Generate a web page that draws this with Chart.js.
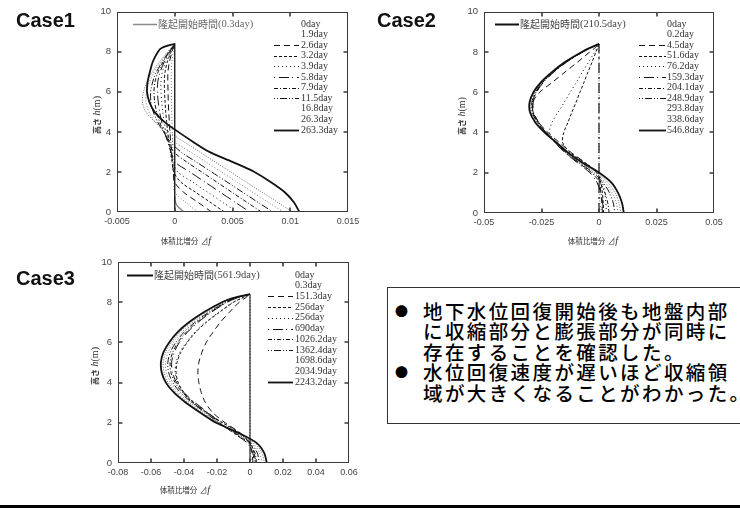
<!DOCTYPE html>
<html><head><meta charset="utf-8">
<script src="https://cdn.jsdelivr.net/npm/chart.js@4"></script>
<style>
html,body{margin:0;padding:0;background:#fff}
body{width:740px;height:510px;position:relative;overflow:hidden;font-family:"Liberation Sans",Arial,sans-serif}
canvas{position:absolute}
.case{position:absolute;font:bold 20px/20px "Liberation Sans",Arial,sans-serif;color:#111}
.ttl{position:absolute;white-space:nowrap;color:#333;font-family:"Liberation Serif",serif;font-size:10px;line-height:12px}
.ttl.y{transform:translate(-50%,-50%) rotate(-90deg)}
.ttl.x{transform:translate(-50%,-50%)}
.jp{font-family:"Noto Sans CJK JP";font-size:7.5px}
.jpb{font-family:"Noto Sans CJK JP";font-size:8px;font-weight:bold}
.box{position:absolute;left:387px;top:287px;width:420px;height:137px;border:1px solid #333;box-sizing:border-box}
.ln{position:absolute;left:35px;white-space:nowrap;font-family:"Noto Sans CJK JP";font-size:19.5px;letter-spacing:2.4px;line-height:20px;color:#000;font-weight:500}
.bul{position:absolute;left:7px;font-family:"Noto Sans CJK JP";font-size:13px;line-height:20px;color:#000}
.bar{position:absolute;left:0;top:505px;width:740px;height:3px;background:#000}
</style></head>
<body>
<canvas id="c1" width="370" height="250" style="left:0;top:0"></canvas>
<canvas id="c2" width="370" height="250" style="left:370px;top:0"></canvas>
<canvas id="c3" width="370" height="260" style="left:0;top:250px"></canvas>

<div class="case" style="left:16px;top:10px">Case1</div>
<div class="case" style="left:377px;top:10px">Case2</div>
<div class="case" style="left:16px;top:268px">Case3</div>

<div class="ttl y" style="left:97px;top:115px"><span class="jpb">高さ</span> <i>h</i>(m)</div>
<div class="ttl y" style="left:462px;top:116px"><span class="jpb">高さ</span> <i>h</i>(m)</div>
<div class="ttl y" style="left:95px;top:366px"><span class="jpb">高さ</span> <i>h</i>(m)</div>
<div class="ttl x" style="left:186px;top:241px"><span class="jp">体積比増分</span> <span class="jp">⊿</span><i>f</i></div>
<div class="ttl x" style="left:593px;top:241px"><span class="jp">体積比増分</span> <span class="jp">⊿</span><i>f</i></div>
<div class="ttl x" style="left:185px;top:490px"><span class="jp">体積比増分</span> <span class="jp">⊿</span><i>f</i></div>

<div class="box">
  <div class="bul" style="top:13px">●</div>
  <div class="ln" style="top:13px">地下水位回復開始後も地盤内部</div>
  <div class="ln" style="top:33.3px">に収縮部分と膨張部分が同時に</div>
  <div class="ln" style="top:53.6px">存在することを確認した。</div>
  <div class="bul" style="top:73.9px">●</div>
  <div class="ln" style="top:73.9px">水位回復速度が遅いほど収縮領</div>
  <div class="ln" style="top:94.5px">域が大きくなることがわかった。</div>
</div>
<div class="bar"></div>

<script>
// ---------- DATA ----------
const H = [0, 0.5, 1, 1.5, 2, 2.5, 3, 3.5, 4, 4.5, 5, 5.5, 6, 6.5, 7, 7.5, 8, 8.2, 8.4];
const yTicks = [0, 2, 4, 6, 8, 10];
const yLabels = ['0', '2', '4', '6', '8', '10'];

// Case1
const x1Ticks = [-0.005, 0, 0.005, 0.01, 0.015];
const x1Labels = ['-0.005', '0', '0.005', '0.01', '0.015'];
const labels1 = ['0day','1.9day','2.6day','3.2day','3.9day','5.8day','7.9day','11.5day','16.8day','26.3day','263.3day'];
const c1_0    = [0,0,0,0,0,0,0,0,0,0,0,0,0,0,0,0,0,0,0];
const c1_1_9  = [0.0020,0.0009,-0.00002,-0.00005,-0.00008,-0.00012,-0.00016,-0.00019,-0.00022,-0.00024,-0.00026,-0.00028,-0.00029,-0.0003,-0.0003,-0.00025,-0.00013,-0.00007,0];
const c1_2_6  = [0.0032,0.00197,0.00074,-0.00003,-0.00012,-0.0002,-0.00028,-0.00035,-0.00042,-0.00047,-0.00052,-0.00056,-0.00058,-0.0006,-0.00059,-0.00046,-0.00023,-0.00012,0];
const c1_3_2  = [0.0043,0.00304,0.00177,0.00051,-0.00009,-0.00023,-0.00036,-0.00049,-0.00061,-0.0007,-0.00078,-0.00084,-0.00088,-0.0009,-0.00084,-0.00064,-0.00031,-0.00016,0];
const c1_3_9  = [0.0054,0.00411,0.00283,0.00154,0.00026,-0.00017,-0.00039,-0.00059,-0.00076,-0.00092,-0.00104,-0.00113,-0.00119,-0.0012,-0.00107,-0.00078,-0.00037,-0.00019,0];
const c1_5_8  = [0.0065,0.0052,0.0039,0.0026,0.0013,0,-0.00031,-0.00061,-0.00089,-0.00113,-0.00131,-0.00143,-0.0015,-0.00147,-0.00126,-0.0009,-0.00042,-0.00022,0];
const c1_7_9  = [0.0075,0.00621,0.00491,0.00362,0.00233,0.00103,-0.00009,-0.00053,-0.00095,-0.00131,-0.00157,-0.00174,-0.0018,-0.00171,-0.00143,-0.001,-0.00046,-0.00024,0];
const c1_11_5 = [0.0085,0.00717,0.00584,0.00452,0.00319,0.00186,0.00053,-0.00038,-0.00097,-0.00148,-0.00186,-0.00207,-0.00208,-0.00191,-0.00158,-0.00108,-0.0005,-0.00026,0];
const c1_16_8 = [0.0094,0.00806,0.00671,0.00537,0.00403,0.00269,0.00134,0,-0.00091,-0.0017,-0.00225,-0.00249,-0.00244,-0.00219,-0.00177,-0.0012,-0.00056,-0.00029,0];
const c1_26_3 = [0.0102,0.00886,0.00752,0.00617,0.00483,0.00349,0.00215,0.00081,-0.00051,-0.00169,-0.0025,-0.0028,-0.0027,-0.0024,-0.00193,-0.00131,-0.0006,-0.00031,0];
const c1_263_3= [0.0108,0.0103,0.0095,0.0083,0.0069,0.0050,0.0030,0.0016,0.0003,-0.0009,-0.00175,-0.0022,-0.0024,-0.00235,-0.00215,-0.0019,-0.00145,-0.0011,0];
const uplift1H = [0, 0.2, 0.4, 0.6, 0.8];
const uplift1X = [0.0008, 0.0004, 0.00012, 0.00002, 0];
const uplift1Text = ['隆起開始時間', '(0.3day)'];

// Case2
const x2Ticks = [-0.05, -0.025, 0, 0.025, 0.05];
const x2Labels = ['-0.05', '-0.025', '0', '0.025', '0.05'];
const labels2 = ['0day','0.2day','4.5day','51.6day','76.2day','159.3day','204.1day','248.9day','293.8day','338.6day','546.8day'];
const c2_0     = [0,0,0,0,0,0,0,0,0,0,0,0,0,0,0,0,0,0,0];
const c2_0_2   = [0.0012,0.0004,0.0001,0,0,0,0,0,0,0,0,0,0,0,0,0,0,0,0];
const c2_4_5   = [0.0015,0.0012,0.0008,0.0003,-0.0010,-0.0060,-0.0120,-0.0172,-0.0222,-0.0262,-0.0286,-0.0288,-0.0258,-0.0202,-0.0148,-0.0093,-0.0040,-0.0018,0];
const c2_51_6  = [0.0020,0.0018,0.0015,0.0008,-0.0008,-0.0062,-0.0125,-0.0158,-0.0153,-0.0135,-0.0118,-0.0100,-0.0083,-0.0065,-0.0048,-0.0030,-0.0013,-0.0006,0];
const c2_76_2  = [0.0032,0.0030,0.0025,0.0015,-0.0005,-0.0064,-0.0128,-0.0183,-0.0215,-0.0204,-0.0178,-0.0151,-0.0125,-0.0098,-0.0072,-0.0045,-0.0019,-0.0009,0];
const c2_159_3 = [0.0020,0.0016,0.0008,-0.0008,-0.0040,-0.0094,-0.0148,-0.0192,-0.0228,-0.0262,-0.0284,-0.0286,-0.0271,-0.0241,-0.0196,-0.0140,-0.0070,-0.0037,0];
const c2_204_1 = [0.0044,0.0038,0.0026,0.0005,-0.0032,-0.0090,-0.0146,-0.0191,-0.0230,-0.0265,-0.0287,-0.0289,-0.0274,-0.0244,-0.0198,-0.0142,-0.0071,-0.0038,0];
const c2_248_9 = [0.0069,0.0062,0.0046,0.0018,-0.0025,-0.0086,-0.0143,-0.0190,-0.0231,-0.0268,-0.0290,-0.0292,-0.0276,-0.0246,-0.0200,-0.0144,-0.0072,-0.0038,0];
const c2_293_8 = [0.0083,0.0075,0.0058,0.0028,-0.0018,-0.0082,-0.0140,-0.0188,-0.0233,-0.0271,-0.0293,-0.0295,-0.0279,-0.0248,-0.0201,-0.0145,-0.0072,-0.0039,0];
const c2_338_6 = [0.0095,0.0087,0.0070,0.0040,-0.0010,-0.0078,-0.0138,-0.0186,-0.0234,-0.0273,-0.0296,-0.0298,-0.0282,-0.0250,-0.0203,-0.0146,-0.0073,-0.0039,0];
const c2_546_8 = [0.0108,0.0100,0.0083,0.0055,0.0001,-0.0072,-0.0135,-0.0185,-0.0236,-0.0277,-0.0300,-0.0302,-0.0285,-0.0252,-0.0205,-0.0148,-0.0075,-0.0040,0];
const uplift2Text = ['隆起開始時間', '(210.5day)'];

// Case3
const x3Ticks = [-0.08, -0.06, -0.04, -0.02, 0, 0.02, 0.04, 0.06];
const x3Labels = ['-0.08', '-0.06', '-0.04', '-0.02', '0', '0.02', '0.04', '0.06'];
const labels3 = ['0day','0.3day','151.3day','256day','256day','690day','1026.2day','1362.4day','1698.6day','2034.9day','2243.2day'];
const c3_0      = [0,0,0,0,0,0,0,0,0,0,0,0,0,0,0,0,0,0,0];
const c3_0_3    = [0.0010,0.0003,0.0001,0,0,0,0,0,0,0,0,0,0,0,0,0,0,0,0];
const c3_151_3  = [0.0018,0.0012,-0.0005,-0.0060,-0.0150,-0.0225,-0.0270,-0.0295,-0.0310,-0.0316,-0.0310,-0.0292,-0.0265,-0.0225,-0.0180,-0.0125,-0.0065,-0.0030,0];
const c3_256a   = [0.0032,0.0025,0.0000,-0.0065,-0.0165,-0.0260,-0.0345,-0.0400,-0.0435,-0.0448,-0.0442,-0.0420,-0.0380,-0.0330,-0.0265,-0.0185,-0.0100,-0.0050,0];
const c3_256b   = [0.0034,0.0026,0.0002,-0.0066,-0.0168,-0.0264,-0.0350,-0.0405,-0.0440,-0.0453,-0.0448,-0.0426,-0.0386,-0.0336,-0.0270,-0.0190,-0.0103,-0.0052,0];
const c3_690    = [0.0025,0.0017,-0.0018,-0.0102,-0.0180,-0.0253,-0.0332,-0.0400,-0.0445,-0.0470,-0.0475,-0.0460,-0.0428,-0.0380,-0.0315,-0.0234,-0.0138,-0.0082,0];
const c3_1026_2 = [0.0040,0.0030,-0.0008,-0.0098,-0.0185,-0.0260,-0.0340,-0.0408,-0.0454,-0.0479,-0.0484,-0.0469,-0.0437,-0.0388,-0.0322,-0.0240,-0.0142,-0.0085,0];
const c3_1362_4 = [0.0056,0.0044,0.0004,-0.0092,-0.0190,-0.0270,-0.0352,-0.0421,-0.0468,-0.0493,-0.0498,-0.0483,-0.0450,-0.0401,-0.0334,-0.0250,-0.0149,-0.0090,0];
const c3_1698_6 = [0.0072,0.0058,0.0016,-0.0085,-0.0195,-0.0280,-0.0364,-0.0434,-0.0482,-0.0507,-0.0512,-0.0497,-0.0463,-0.0414,-0.0346,-0.0260,-0.0156,-0.0095,0];
const c3_2034_9 = [0.0088,0.0072,0.0028,-0.0078,-0.0200,-0.0290,-0.0376,-0.0447,-0.0496,-0.0521,-0.0526,-0.0511,-0.0476,-0.0427,-0.0358,-0.0270,-0.0163,-0.0100,0];
const c3_2243_2 = [0.0102,0.0086,0.0040,-0.0070,-0.0205,-0.0300,-0.0388,-0.0460,-0.0510,-0.0535,-0.0540,-0.0525,-0.0490,-0.0440,-0.0370,-0.0280,-0.0170,-0.0105,0];
const uplift3Text = ['隆起開始時間', '(561.9day)'];

// ---------- STYLES ----------
const K = '#111';
const S = {
  solidThin: {w:1.3, d:[], s:false},
  blank:     {w:0.8, d:[1,2], s:false, c:'#555'},
  blank2:    {w:0.8, d:[1,1.5], s:false, c:'#444'},
  longDash:  {w:1, d:[6,4]},
  shortDash: {w:1, d:[3,2]},
  dotted:    {w:1, d:[1,3]},
  dotLong:   {w:1, d:[1,4,10,3]},
  dashDot:   {w:1, d:[4,2,1,2]},
  ddLong:    {w:1, d:[1,2,1,2,7,2]},
  solidBold: {w:1.8, d:[]},
  vertDash:  {w:1.2, d:[10,4,2,4], s:false}
};

function ds(label, xs, st, order, hs) {
  const hh = hs || H;
  return {
    label, data: xs.map((x, i) => ({x, y: hh[i]})),
    borderColor: st.c || K, borderWidth: st.w, borderDash: st.d,
    sample: st.s !== false, pointRadius: 0, showLine: true, tension: 0.3,
    fill: false, order
  };
}

const sets1 = [
  ds(labels1[0], c1_0, S.solidThin, 0),
  ds(labels1[1], c1_1_9, S.blank, 9),
  ds(labels1[2], c1_2_6, S.longDash, 8),
  ds(labels1[3], c1_3_2, S.shortDash, 7),
  ds(labels1[4], c1_3_9, S.dotted, 6),
  ds(labels1[5], c1_5_8, S.dotLong, 5),
  ds(labels1[6], c1_7_9, S.dashDot, 4),
  ds(labels1[7], c1_11_5, S.ddLong, 3),
  ds(labels1[8], c1_16_8, S.blank, 2),
  ds(labels1[9], c1_26_3, S.blank2, 2),
  ds(labels1[10], c1_263_3, S.solidBold, 1),
];
sets1.push(Object.assign(ds('uplift', uplift1X, {w:1.5, d:[], c:'#8a8a8a'}, 10, uplift1H), {sample:false, legendSkip:true}));

const sets2 = [
  ds(labels2[0], c2_0, S.vertDash, 0),
  ds(labels2[1], c2_0_2, S.blank, 9),
  ds(labels2[2], c2_4_5, S.longDash, 8),
  ds(labels2[3], c2_51_6, S.shortDash, 7),
  ds(labels2[4], c2_76_2, S.dotted, 6),
  ds(labels2[5], c2_159_3, S.dotLong, 5),
  ds(labels2[6], c2_204_1, S.dashDot, 4),
  ds(labels2[7], c2_248_9, S.ddLong, 3),
  ds(labels2[8], c2_293_8, S.blank, 2),
  ds(labels2[9], c2_338_6, S.blank2, 2),
  ds(labels2[10], c2_546_8, S.solidBold, 1),
];

const sets3 = [
  ds(labels3[0], c3_0, {w:1.1, d:[], s:false}, 0),
  ds(labels3[1], c3_0_3, S.blank, 9),
  ds(labels3[2], c3_151_3, S.longDash, 8),
  ds(labels3[3], c3_256a, S.shortDash, 7),
  ds(labels3[4], c3_256b, S.dotted, 6),
  ds(labels3[5], c3_690, S.dotLong, 5),
  ds(labels3[6], c3_1026_2, S.dashDot, 4),
  ds(labels3[7], c3_1362_4, S.ddLong, 3),
  ds(labels3[8], c3_1698_6, S.blank, 2),
  ds(labels3[9], c3_2034_9, S.blank2, 2),
  ds(labels3[10], c3_2243_2, S.solidBold, 1),
];

// ---------- PLUGINS ----------
const framePlugin = {
  id: 'frame',
  afterDatasetsDraw(chart) {
    const {ctx, chartArea: a, scales: {x, y}} = chart;
    ctx.save();
    ctx.strokeStyle = '#3a3a3a';
    ctx.lineWidth = 1;
    ctx.setLineDash([]);
    const l = Math.round(a.left) + 0.5, r = Math.round(a.right) - 0.5;
    const t = Math.round(a.top) + 0.5, b = Math.round(a.bottom) - 0.5;
    ctx.strokeRect(l, t, r - l, b - t);
    ctx.lineWidth = 1.6;
    ctx.beginPath();
    const L = 4;
    x.ticks.forEach(tk => {
      const p = Math.round(x.getPixelForValue(tk.value));
      if (p <= l + 1 || p >= r - 1) return;
      ctx.moveTo(p, b); ctx.lineTo(p, b - L);
      ctx.moveTo(p, t); ctx.lineTo(p, t + L);
    });
    y.ticks.forEach(tk => {
      const p = Math.round(y.getPixelForValue(tk.value));
      if (p <= t + 1 || p >= b - 1) return;
      ctx.moveTo(l, p); ctx.lineTo(l + L, p);
      ctx.moveTo(r, p); ctx.lineTo(r - L, p);
    });
    ctx.stroke();
    ctx.restore();
  }
};

const legendPlugin = {
  id: 'dlegend',
  afterDraw(chart, args, o) {
    const ctx = chart.ctx;
    ctx.save();
    ctx.textBaseline = 'middle';
    ctx.textAlign = 'left';
    let row = 0;
    chart.data.datasets.forEach(d => {
      if (d.legendSkip) return;
      const yy = o.y0 + row * o.dy;
      if (d.sample) {
        ctx.strokeStyle = d.borderColor;
        ctx.lineWidth = d.borderWidth;
        ctx.setLineDash(d.borderDash || []);
        ctx.beginPath();
        ctx.moveTo(o.sx0, Math.round(yy) + 0.5);
        ctx.lineTo(o.sx1, Math.round(yy) + 0.5);
        ctx.stroke();
      }
      ctx.setLineDash([]);
      ctx.fillStyle = '#333';
      ctx.font = '10px "Liberation Serif", serif';
      ctx.fillText(d.label, o.tx, yy);
      row++;
    });
    const u = o.up;
    ctx.strokeStyle = u.color; ctx.lineWidth = u.w; ctx.setLineDash([]);
    ctx.beginPath();
    ctx.moveTo(u.x0, Math.round(u.y) + 0.5); ctx.lineTo(u.x1, Math.round(u.y) + 0.5);
    ctx.stroke();
    ctx.fillStyle = u.tc;
    ctx.font = '10px "Noto Sans CJK JP"';
    ctx.fillText(u.text[0], u.tx, u.y);
    const w = ctx.measureText(u.text[0]).width;
    ctx.font = '10.5px "Liberation Serif", serif';
    ctx.fillText(u.text[1], u.tx + w, u.y);
    ctx.restore();
  }
};

function makeChart(id, datasets, xmin, xmax, xT, xL, area, leg) {
  return new Chart(document.getElementById(id), {
    type: 'scatter',
    data: {datasets},
    options: {
      responsive: false, animation: false, devicePixelRatio: 1,
      layout: {padding: {left: 0, right: area.r, top: area.t, bottom: 0}},
      plugins: {legend: {display: false}, tooltip: {enabled: false}, dlegend: leg},
      scales: {
        x: {
          type: 'linear', min: xmin, max: xmax,
          afterBuildTicks: s => { s.ticks = xT.map(v => ({value: v})); },
          afterFit: s => { s.height = area.xh; },
          grid: {display: false, drawTicks: false}, border: {display: false},
          ticks: {padding: 4, color: '#444', font: {family: 'Liberation Sans', size: 9},
                  callback: (v, i) => xL[i], maxRotation: 0, autoSkip: false}
        },
        y: {
          type: 'linear', min: 0, max: 10,
          afterBuildTicks: s => { s.ticks = yTicks.map(v => ({value: v})); },
          afterFit: s => { s.width = area.yw; },
          grid: {display: false, drawTicks: false}, border: {display: false},
          ticks: {padding: 6, color: '#444', font: {family: 'Liberation Sans', size: 9.5},
                  callback: (v, i) => yLabels[i], autoSkip: false}
        }
      }
    },
    plugins: [framePlugin, legendPlugin]
  });
}

makeChart('c1', sets1, -0.005, 0.015, x1Ticks, x1Labels,
  {yw: 117, r: 22, t: 10, xh: 38},
  {sx0: 274, sx1: 299, tx: 301, y0: 24, dy: 10.6,
   up: {x0: 133, x1: 157, y: 24, tx: 158, text: uplift1Text, color: '#8a8a8a', w: 1.5, tc: '#666'}});

makeChart('c2', sets2, -0.05, 0.05, x2Ticks, x2Labels,
  {yw: 114, r: 26, t: 10, xh: 37},
  {sx0: 269, sx1: 296, tx: 297, y0: 24, dy: 10.6,
   up: {x0: 125, x1: 149, y: 24, tx: 150, text: uplift2Text, color: '#111', w: 2, tc: '#444'}});

makeChart('c3', sets3, -0.08, 0.06, x3Ticks, x3Labels,
  {yw: 118, r: 21, t: 12, xh: 47},
  {sx0: 268, sx1: 293, tx: 295, y0: 25, dy: 10.7,
   up: {x0: 127, x1: 153, y: 25, tx: 154, text: uplift3Text, color: '#111', w: 2, tc: '#444'}});
</script>
</body></html>
